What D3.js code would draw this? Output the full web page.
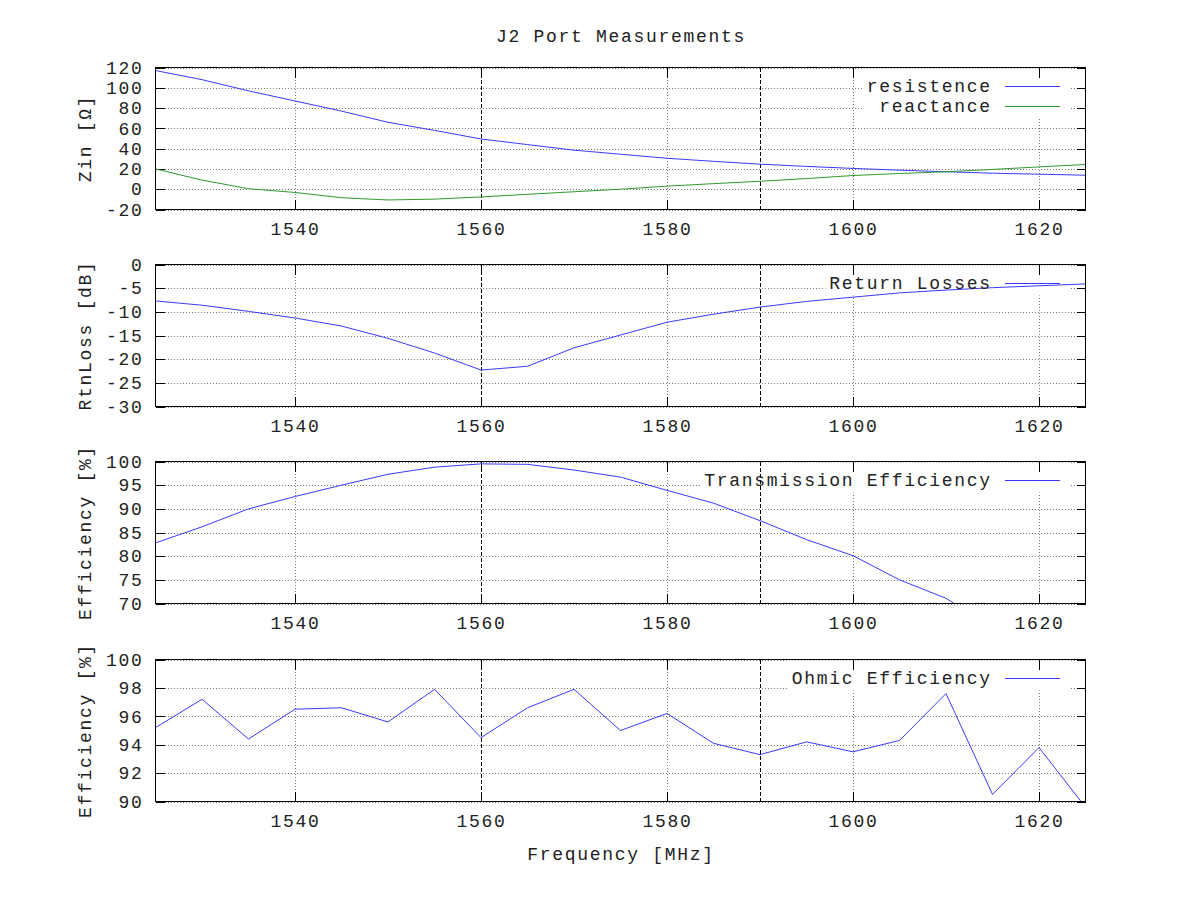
<!DOCTYPE html>
<html>
<head>
<meta charset="utf-8">
<script src="https://cdn.jsdelivr.net/npm/d3@7"></script>
<style>
  body { margin: 0; background: #fff; }
  svg text { font-family: "Liberation Mono", "DejaVu Sans Mono", monospace; fill: #222; }
</style>
</head>
<body>
<svg id="chart" width="1200" height="900"></svg>
<script>
// J2 port measurements, 5 MHz steps
const freqs = [1525, 1530, 1535, 1540, 1545, 1550, 1555, 1560, 1565, 1570, 1575,
               1580, 1585, 1590, 1595, 1600, 1605, 1610, 1615, 1620, 1625];
const resistance = [117, 108, 97, 87, 77, 66, 58, 49.5, 44, 38.5, 34.5,
                    30.5, 27.5, 24.7, 22.5, 20.5, 18.8, 17.2, 15.8, 14.8, 13.8];
const reactance = [20, 9, 0.5, -3.2, -8.4, -10.6, -9.8, -7.6, -5, -2.5, 0,
                   3, 5.5, 7.8, 10.5, 13.5, 15.5, 17.2, 19.5, 22, 24.4];
const returnLoss = [-7.7, -8.6, -9.9, -11.3, -13.0, -15.6, -18.7, -22.3, -21.5, -17.6, -14.9,
                    -12.2, -10.5, -9.0, -7.8, -6.9, -6.0, -5.4, -4.9, -4.5, -4.1];
const transmission = [82.8, 86.2, 90.0, 92.6, 95.0, 97.3, 98.8, 99.5, 99.4, 98.2, 96.7,
                      93.9, 91.2, 87.5, 83.5, 80.1, 75.0, 71.1, 65.0, 64.5, 62.0];
const ohmic = [95.2, 97.2, 94.4, 96.5, 96.6, 95.6, 97.9, 94.5, 96.6, 97.9, 95.0,
               96.2, 94.1, 93.3, 94.2, 93.5, 94.3, 97.6, 90.5, 93.8, 89.6];

const xTicks = [1540, 1560, 1580, 1600, 1620];
const markers = [1560, 1590]; // dashed band edges

const svg = d3.select("#chart");
const left = 155.5, right = 1085.5, panelH = 142;
const fontSize = 18, spacing = 1.7;

const x = d3.scaleLinear().domain([1525, 1625]).range([left, right]);

const panels = [
  { top: 67.5, domain: [-20, 120], step: 20, label: "Zin [Ω]",
    series: [{ name: "resistence", values: resistance, color: "#3a3aff" },
             { name: "reactance", values: reactance, color: "#2e9a2e" }] },
  { top: 264.5, domain: [-30, 0], step: 5, label: "RtnLoss [dB]",
    series: [{ name: "Return Losses", values: returnLoss, color: "#3a3aff" }] },
  { top: 461.5, domain: [70, 100], step: 5, label: "Efficiency [%]",
    series: [{ name: "Transmission Efficiency", values: transmission, color: "#3a3aff" }] },
  { top: 659.5, domain: [90, 100], step: 2, label: "Efficiency [%]",
    series: [{ name: "Ohmic Efficiency", values: ohmic, color: "#3a3aff" }] }
];

function styleText(sel) {
  sel.attr("font-size", fontSize).attr("letter-spacing", spacing);
}

panels.forEach((p, i) => {
  const bottom = p.top + panelH;
  const y = d3.scaleLinear().domain(p.domain).range([bottom, p.top]);
  const yTicks = d3.range(p.domain[0], p.domain[1] + 0.001, p.step);
  const g = svg.append("g");

  // grid
  g.append("g")
    .attr("transform", `translate(0,${bottom})`)
    .call(d3.axisBottom(x).tickValues(xTicks).tickSizeInner(-panelH).tickSizeOuter(0).tickFormat(""))
    .call(a => a.select(".domain").remove())
    .selectAll("line").attr("stroke", "#777").attr("stroke-dasharray", "1,2")
    .attr("shape-rendering", "crispEdges");
  g.append("g")
    .attr("transform", `translate(${left},0)`)
    .call(d3.axisLeft(y).tickValues(yTicks).tickSizeInner(-(right - left)).tickSizeOuter(0).tickFormat(""))
    .call(a => a.select(".domain").remove())
    .selectAll("line").attr("stroke", "#777").attr("stroke-dasharray", "1,2")
    .attr("shape-rendering", "crispEdges");

  // opaque key box (hides grid only)
  const rows = p.series.length;
  const keyTextRight = 990;
  const longest = d3.max(p.series, s => s.name.length);
  const boxLeft = keyTextRight - longest * (fontSize * 0.6 + spacing) - 2;
  g.append("rect")
    .attr("x", boxLeft).attr("y", p.top + 1)
    .attr("width", 1070 - boxLeft).attr("height", 19 + (rows - 1) * 20 + 11)
    .attr("fill", "#fff");

  // axes with inward ticks
  const bottomAxis = g.append("g")
    .attr("transform", `translate(0,${bottom})`)
    .call(d3.axisBottom(x).tickValues(xTicks).tickSizeInner(-10).tickSizeOuter(0).tickPadding(13)
      .tickFormat(d => String(d)));
  bottomAxis.select(".domain").remove();
  bottomAxis.selectAll("line").attr("stroke", "#000").attr("shape-rendering", "crispEdges");
  bottomAxis.selectAll("text").call(styleText).attr("fill", "#222");

  const topAxis = g.append("g")
    .attr("transform", `translate(0,${p.top})`)
    .call(d3.axisTop(x).tickValues(xTicks).tickSizeInner(-10).tickSizeOuter(0).tickFormat(""));
  topAxis.select(".domain").remove();
  topAxis.selectAll("line").attr("stroke", "#000").attr("shape-rendering", "crispEdges");

  const leftAxis = g.append("g")
    .attr("transform", `translate(${left},0)`)
    .call(d3.axisLeft(y).tickValues(yTicks).tickSizeInner(-9).tickSizeOuter(0).tickPadding(12)
      .tickFormat(d => String(d)));
  leftAxis.select(".domain").remove();
  leftAxis.selectAll("line").attr("stroke", "#000").attr("shape-rendering", "crispEdges");
  leftAxis.selectAll("text").call(styleText).attr("fill", "#222");

  const rightAxis = g.append("g")
    .attr("transform", `translate(${right},0)`)
    .call(d3.axisRight(y).tickValues(yTicks).tickSizeInner(-9).tickSizeOuter(0).tickFormat(""));
  rightAxis.select(".domain").remove();
  rightAxis.selectAll("line").attr("stroke", "#000").attr("shape-rendering", "crispEdges");

  // clip
  const clipId = `clip${i}`;
  svg.append("clipPath").attr("id", clipId)
    .append("rect").attr("x", left).attr("y", p.top).attr("width", right - left).attr("height", panelH);

  // dashed markers
  g.append("g").selectAll("line")
    .data(markers)
    .join("line")
    .attr("x1", d => x(d)).attr("x2", d => x(d))
    .attr("y1", p.top).attr("y2", bottom)
    .attr("stroke", "#000")
    .attr("stroke-dasharray", "4,2")
    .attr("shape-rendering", "crispEdges");

  // data lines
  const line = d3.line().x((d, j) => x(freqs[j])).y(d => y(d));
  g.append("g").attr("clip-path", `url(#${clipId})`)
    .selectAll("path")
    .data(p.series)
    .join("path")
    .attr("d", s => line(s.values))
    .attr("fill", "none")
    .attr("stroke", s => s.color)
    .attr("stroke-width", 1);

  // key
  p.series.forEach((s, k) => {
    const ky = p.top + 19 + k * 20;
    g.append("text")
      .attr("x", keyTextRight + spacing).attr("y", ky)
      .attr("text-anchor", "end")
      .attr("dominant-baseline", "central")
      .call(styleText)
      .text(s.name);
    g.append("line")
      .attr("x1", 1005).attr("x2", 1060)
      .attr("y1", ky).attr("y2", ky)
      .attr("stroke", s.color);
  });

  // border
  g.append("rect")
    .attr("x", left).attr("y", p.top)
    .attr("width", right - left).attr("height", panelH)
    .attr("fill", "none").attr("stroke", "#000").attr("stroke-width", 1)
    .attr("shape-rendering", "crispEdges");

  // y label
  g.append("text")
    .attr("transform", `translate(86,${p.top + panelH / 2}) rotate(-90)`)
    .attr("text-anchor", "middle")
    .attr("dominant-baseline", "central")
    .call(styleText)
    .text(p.label);
});

svg.append("text")
  .attr("x", 621).attr("y", 37)
  .attr("text-anchor", "middle").attr("dominant-baseline", "central")
  .call(styleText)
  .text("J2 Port Measurements");

svg.append("text")
  .attr("x", 621).attr("y", 855)
  .attr("text-anchor", "middle").attr("dominant-baseline", "central")
  .call(styleText)
  .text("Frequency [MHz]");
</script>
</body>
</html>
